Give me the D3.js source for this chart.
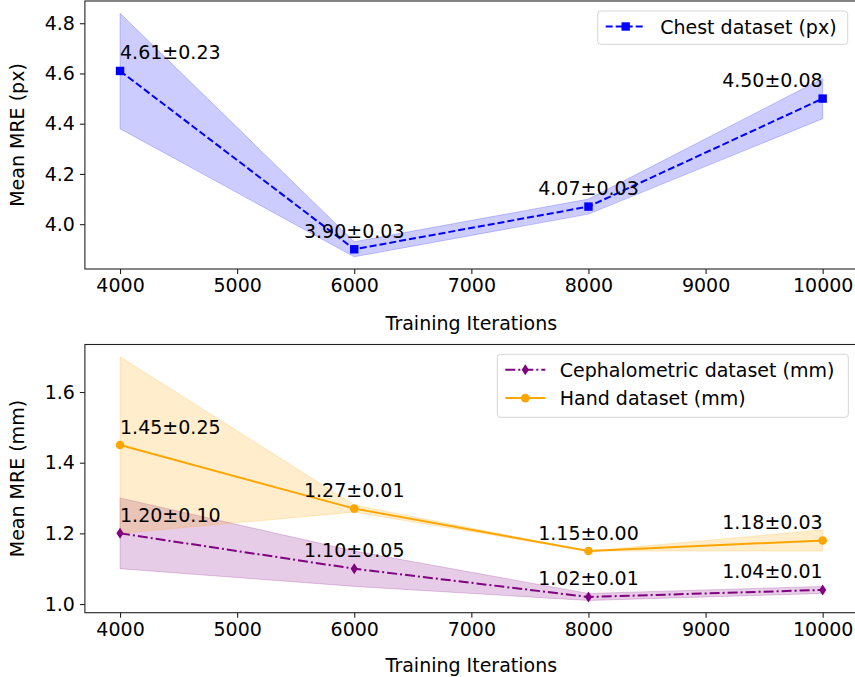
<!DOCTYPE html>
<html>
<head>
<meta charset="utf-8">
<script src="https://cdn.jsdelivr.net/npm/d3@7"></script>
<style>
  body { margin: 0; background: #fff; }
  svg { font-family: "DejaVu Sans", sans-serif; display: block; }
</style>
</head>
<body>
<div id="chart"></div>
<script>
const width = 855, height = 677;

// data
const iterations = [4000, 6000, 8000, 10000];
const chestMean = [4.61, 3.90, 4.07, 4.50];
const chestStd = [0.23, 0.03, 0.03, 0.08];
const cephMean = [1.20, 1.10, 1.02, 1.04];
const cephStd = [0.10, 0.05, 0.01, 0.01];
const handMean = [1.45, 1.27, 1.15, 1.18];
const handStd = [0.25, 0.01, 0.00, 0.03];
const xTicks = [4000, 5000, 6000, 7000, 8000, 9000, 10000];
const topYTicks = [4.0, 4.2, 4.4, 4.6, 4.8];
const botYTicks = [1.0, 1.2, 1.4, 1.6];

const fs = 19;
const left = 84.9, right = 857.8;
const svg = d3.select("#chart").append("svg")
    .attr("width", width)
    .attr("height", height);

const x = d3.scaleLinear().domain([3700, 10300]).range([left, right]);

const panels = [
    {
        top: 1, bottom: 269,
        domain: [3.8215, 4.8885],
        ticks: topYTicks,
        ylabel: "Mean MRE (px)",
        xlabelY: 330,
        series: [
            { name: "Chest dataset (px)", mean: chestMean, std: chestStd, color: "#0000ff", dash: "7,3", marker: "square" }
        ],
        legend: { x: 597.7, y: 11, w: 250, h: 33.3 }
    },
    {
        top: 344.5, bottom: 612.7,
        domain: [0.9755, 1.7345],
        ticks: botYTicks,
        ylabel: "Mean MRE (mm)",
        xlabelY: 672,
        series: [
            { name: "Cephalometric dataset (mm)", mean: cephMean, std: cephStd, color: "#800080", dash: "10,3,2,3", marker: "diamond" },
            { name: "Hand dataset (mm)", mean: handMean, std: handStd, color: "#ffa500", dash: null, marker: "circle" }
        ],
        legend: { x: 497.3, y: 354.3, w: 351, h: 63 }
    }
];

function drawMarker(g, type, cx, cy, color) {
    if (type === "square") {
        g.append("rect").attr("x", cx - 4.2).attr("y", cy - 4.2)
            .attr("width", 8.4).attr("height", 8.4).attr("fill", color);
    } else if (type === "circle") {
        g.append("circle").attr("cx", cx).attr("cy", cy).attr("r", 4.3).attr("fill", color);
    } else {
        g.append("path")
            .attr("d", `M${cx},${cy - 5.5}L${cx + 3.6},${cy}L${cx},${cy + 5.5}L${cx - 3.6},${cy}Z`)
            .attr("fill", color);
    }
}

panels.forEach(p => {
    const y = d3.scaleLinear().domain(p.domain).range([p.bottom, p.top]);
    const g = svg.append("g");

    // bands
    p.series.forEach(s => {
        const pts = iterations.map((it, i) => ({ x: it, lo: s.mean[i] - s.std[i], hi: s.mean[i] + s.std[i] }));
        const area = d3.area().x(d => x(d.x)).y0(d => y(d.lo)).y1(d => y(d.hi));
        g.append("path").attr("d", area(pts))
            .attr("fill", s.color).attr("fill-opacity", 0.2)
            .attr("stroke", s.color).attr("stroke-opacity", 0.2).attr("stroke-width", 1);
    });

    // lines + markers
    p.series.forEach(s => {
        const line = d3.line().x(d => x(d[0])).y(d => y(d[1]));
        g.append("path").attr("d", line(iterations.map((it, i) => [it, s.mean[i]])))
            .attr("fill", "none").attr("stroke", s.color).attr("stroke-width", 2)
            .attr("stroke-dasharray", s.dash);
        iterations.forEach((it, i) => drawMarker(g, s.marker, x(it), y(s.mean[i]), s.color));
    });

    // annotations
    p.series.forEach(s => {
        iterations.forEach((it, i) => {
            const anchor = i === 0 ? "start" : (i === iterations.length - 1 ? "end" : "middle");
            g.append("text")
                .attr("x", x(it))
                .attr("y", y(s.mean[i]) - 11.5)
                .attr("text-anchor", anchor)
                .attr("font-size", fs)
                .attr("fill", "#000")
                .text(s.mean[i].toFixed(2) + "±" + s.std[i].toFixed(2));
        });
    });

    // axes
    const xAxis = d3.axisBottom(x).tickValues(xTicks).tickFormat(d3.format("d")).tickSize(5).tickPadding(5);
    const ax = svg.append("g").attr("transform", `translate(0,${p.bottom})`).call(xAxis);
    const yAxis = d3.axisLeft(y).tickValues(p.ticks).tickFormat(d3.format(".1f")).tickSize(5).tickPadding(5);
    const ay = svg.append("g").attr("transform", `translate(${left},0)`).call(yAxis);
    [ax, ay].forEach(a => {
        a.select(".domain").remove();
        a.selectAll("text").attr("font-size", fs).attr("fill", "#000").attr("font-family", "DejaVu Sans");
        a.selectAll("line").attr("stroke", "#222").attr("stroke-width", 1.1);
    });

    // frame
    svg.append("rect")
        .attr("x", left).attr("y", p.top)
        .attr("width", right - left).attr("height", p.bottom - p.top)
        .attr("fill", "none").attr("stroke", "#222").attr("stroke-width", 1.1);

    // axis labels
    svg.append("text")
        .attr("x", (left + right) / 2).attr("y", p.xlabelY)
        .attr("text-anchor", "middle").attr("font-size", fs)
        .text("Training Iterations");
    svg.append("text")
        .attr("transform", `translate(24,${(p.top + p.bottom) / 2}) rotate(-90)`)
        .attr("text-anchor", "middle").attr("font-size", fs)
        .text(p.ylabel);

    // legend
    const L = p.legend;
    const lg = svg.append("g");
    lg.append("rect").attr("x", L.x).attr("y", L.y).attr("width", L.w).attr("height", L.h)
        .attr("rx", 3).attr("fill", "#fff").attr("fill-opacity", 0.8)
        .attr("stroke", "#d5d5d5").attr("stroke-width", 1);
    p.series.forEach((s, i) => {
        const ry = L.y + 15.5 + i * 28.3;
        lg.append("line").attr("x1", L.x + 8).attr("x2", L.x + 48).attr("y1", ry).attr("y2", ry)
            .attr("stroke", s.color).attr("stroke-width", 2).attr("stroke-dasharray", s.dash);
        drawMarker(lg, s.marker, L.x + 28, ry, s.color);
        lg.append("text").attr("x", L.x + 62.5).attr("y", ry + 7)
            .attr("font-size", fs).attr("fill", "#000").text(s.name);
    });
});
</script>
</body>
</html>
